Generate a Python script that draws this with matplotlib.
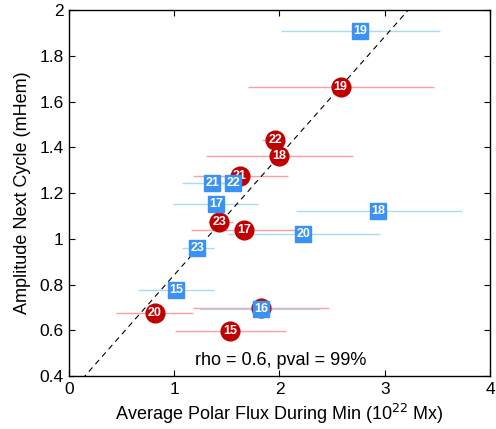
import matplotlib
matplotlib.use("Agg")
import matplotlib.pyplot as plt
import numpy as np

# cycle numbers, polar flux during minimum (x), amplitude of next cycle (y)
red_cycles = [19, 22, 18, 21, 23, 17, 20, 16, 15]
red_x = [2.58, 1.96, 1.995, 1.625, 1.43, 1.666, 0.814, 1.824, 1.533]
red_y = [1.662, 1.431, 1.361, 1.274, 1.074, 1.037, 0.677, 0.697, 0.597]
red_xlo = [1.70, 1.83, 1.30, 1.18, 1.32, 1.16, 0.45, 1.18, 1.01]
red_xhi = [3.47, 2.02, 2.70, 2.08, 1.56, 2.19, 1.18, 2.47, 2.06]

blue_cycles = [19, 21, 22, 17, 18, 20, 23, 15, 16]
blue_x = [2.765, 1.362, 1.56, 1.394, 2.94, 2.226, 1.22, 1.017, 1.824]
blue_y = [1.907, 1.242, 1.242, 1.150, 1.120, 1.020, 0.960, 0.778, 0.694]
blue_xlo = [2.01, 1.07, 1.40, 0.99, 2.16, 1.51, 1.07, 0.66, 1.245]
blue_xhi = [3.52, 1.62, 1.68, 1.80, 3.73, 2.95, 1.38, 1.38, 2.38]

# correlation fit line
fit_slope = 0.521
fit_int = 0.321
stats_text = "rho = 0.6, pval = 99%"

plt.rcParams["font.family"] = ["Liberation Sans", "DejaVu Sans"]

RED = "#c00000"
RED_BAR = "#ff9e9e"
BLUE = "#3a92f5"
BLUE_BAR = "#a8dcf5"

fig = plt.figure(figsize=(4.96, 4.29), dpi=100)
ax = fig.add_axes([0.139, 0.1235, 0.849, 0.853])

# horizontal error bars
ax.hlines(red_y, red_xlo, red_xhi, color=RED_BAR, lw=1.0, zorder=1)
ax.hlines(blue_y, blue_xlo, blue_xhi, color=BLUE_BAR, lw=1.0, zorder=1)

xx = np.array([0.0, 4.0])
ax.plot(xx, fit_slope * xx + fit_int, ls=(0, (5, 4)), color="black", lw=0.8, zorder=2)

ax.plot(red_x, red_y, "o", ms=13.5, mfc=RED, mec=RED, ls="none", zorder=3)
for c, x, y in zip(red_cycles, red_x, red_y):
    ax.text(x, y, str(c), color="white", fontsize=9, fontweight="bold",
            ha="center", va="center", zorder=4)

ax.plot(blue_x, blue_y, "s", ms=11.5, mfc=BLUE, mec=BLUE, ls="none", zorder=5)
for c, x, y in zip(blue_cycles, blue_x, blue_y):
    ax.text(x, y, str(c), color="white", fontsize=9, fontweight="bold",
            ha="center", va="center", zorder=6)

ax.text(2.01, 0.47, stats_text, ha="center", va="center", fontsize=13)

ax.set_xlim(0, 4)
ax.set_ylim(0.4, 2)
ax.set_xticks([0, 1, 2, 3, 4])
ax.set_xticklabels(["0", "1", "2", "3", "4"])
ax.set_yticks([0.4, 0.6, 0.8, 1.0, 1.2, 1.4, 1.6, 1.8, 2.0])
ax.set_yticklabels(["0.4", "0.6", "0.8", "1", "1.2", "1.4", "1.6", "1.8", "2"])
ax.tick_params(direction="in", top=True, right=True, length=4, width=0.8,
               labelsize=12.5, pad=4)
for s in ax.spines.values():
    s.set_linewidth(1.0)

ax.set_xlabel("Average Polar Flux During Min (10$^{22}$ Mx)", fontsize=13, labelpad=4)
ax.set_ylabel("Amplitude Next Cycle (mHem)", fontsize=13, labelpad=6)

fig.savefig("out.png", dpi=100)
